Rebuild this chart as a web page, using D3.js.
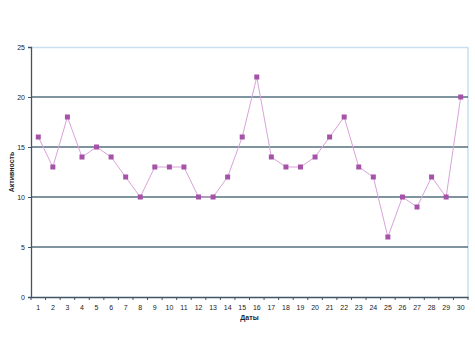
<!DOCTYPE html>
<html><head><meta charset="utf-8">
<script src="https://cdn.jsdelivr.net/npm/d3@7"></script>
<style>body{margin:0;background:#fff}svg{display:block}text{font-family:"Liberation Sans",Arial,sans-serif}</style>
</head><body>
<svg id="c" width="475" height="356"></svg>
<script>
const categories = d3.range(1,31).map(String);
const values = [16,13,18,14,15,14,12,10,13,13,13,10,10,12,16,22,14,13,13,14,16,18,13,12,6,10,9,12,10,20];
const yTicks = [0,5,10,15,20,25];
const xTitle = "Даты";
const yTitle = "Активность";

const svg = d3.select("#c");
const m = {l:31, r:468, t:47, b:297};
const x = d3.scaleBand().domain(categories).range([m.l, m.r]);
const y = d3.scaleLinear().domain([0,25]).range([m.b, m.t]);

// plot border top/right
svg.append("line").attr("x1",m.l).attr("x2",m.r).attr("y1",m.t+0.5).attr("y2",m.t+0.5).attr("stroke","#c8dfee").attr("stroke-width",1.5);
svg.append("line").attr("x1",m.r).attr("x2",m.r).attr("y1",m.t).attr("y2",m.b).attr("stroke","#c8dfee").attr("stroke-width",1.5);

// gridlines
svg.append("g").selectAll("line").data(yTicks.filter(d=>d>0&&d<25)).join("line")
  .attr("x1",m.l).attr("x2",m.r).attr("y1",d=>y(d)).attr("y2",d=>y(d))
  .attr("stroke","#56707f").attr("stroke-width",1.6);

// y axis
const ya = svg.append("g").attr("transform",`translate(${m.l},0)`)
  .call(d3.axisLeft(y).tickValues(yTicks).tickSize(3).tickPadding(3));
ya.select(".domain").attr("stroke","#3d5566").attr("stroke-width",1.3);
ya.selectAll(".tick line").attr("stroke","#3d5566");
ya.selectAll("text").attr("font-size",7).attr("fill","#222");

// x axis
const xa = svg.append("g").attr("transform",`translate(0,${m.b})`)
  .call(d3.axisBottom(x).tickSize(0).tickPadding(8));
xa.select(".domain").attr("stroke","#3d5566").attr("stroke-width",1.3);
xa.selectAll("text").attr("font-size",7).attr("fill","#222");
svg.append("g").selectAll("line").data(d3.range(categories.length+1)).join("line")
  .attr("x1",i=>m.l + i*x.step()).attr("x2",i=>m.l + i*x.step())
  .attr("y1",m.b).attr("y2",m.b+3).attr("stroke","#3d5566");

// titles
svg.append("text").attr("x",(m.l+m.r)/2).attr("y",320).attr("text-anchor","middle")
  .attr("font-size",7).attr("font-weight","bold").attr("fill","#222").text(xTitle);
svg.append("text").attr("transform",`translate(14,${(m.t+m.b)/2}) rotate(-90)`).attr("text-anchor","middle")
  .attr("font-size",7).attr("font-weight","bold").attr("fill","#222").text(yTitle);

// line
const cx = d => x(d) + x.bandwidth()/2;
svg.append("path").datum(values)
  .attr("d", d3.line().x((d,i)=>cx(categories[i])).y(d=>y(d)))
  .attr("fill","none").attr("stroke","#d9a3d9").attr("stroke-width",1);
svg.append("g").selectAll("rect").data(values).join("rect")
  .attr("x",(d,i)=>cx(categories[i])-2.5).attr("y",d=>y(d)-2.5)
  .attr("width",5).attr("height",5).attr("fill","#a552a8");
</script>
</body></html>
